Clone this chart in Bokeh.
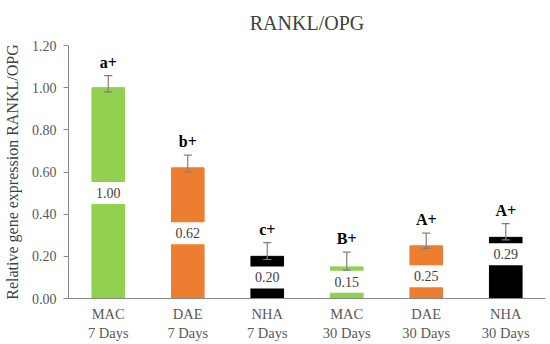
from bokeh.plotting import figure
from bokeh.models import ColumnDataSource, FixedTicker, NumeralTickFormatter, Range1d, FactorRange
from bokeh.core.properties import value
from bokeh.embed import file_html
from bokeh.resources import INLINE

categories = ["MAC\n7 Days", "DAE\n7 Days", "NHA\n7 Days", "MAC\n30 Days", "DAE\n30 Days", "NHA\n30 Days"]
values = [1.00, 0.62, 0.20, 0.15, 0.25, 0.29]
err_up = [0.057, 0.06, 0.065, 0.07, 0.06, 0.065]
err_down = [0.02, 0.02, 0.015, 0.015, 0.012, 0.012]
label_y = [0.50, 0.31, 0.10, 0.08, 0.105, 0.21]
letters = ["a+", "b+", "c+", "B+", "A+", "A+"]
colors = ["#92D050", "#ED7D31", "#000000", "#92D050", "#ED7D31", "#000000"]
yticks = [0.0, 0.2, 0.4, 0.6, 0.8, 1.0, 1.2]

SERIF = "Liberation Serif"

src = ColumnDataSource(dict(
    x=categories,
    top=values,
    color=colors,
    hi=[v + e for v, e in zip(values, err_up)],
    lo=[v - e for v, e in zip(values, err_down)],
    ly=label_y,
    lbl=[f"{v:.2f}" for v in values],
    letter=letters,
))

p = figure(width=550, height=344, x_range=FactorRange(*categories), y_range=Range1d(0, 1.2),
           output_backend="svg", toolbar_location=None,
           min_border_left=64, min_border_right=5, min_border_bottom=46, min_border_top=45)

p.title.text = "RANKL/OPG"
p.title.align = "center"
p.title.vertical_align = "top"
p.title.text_font = SERIF
p.title.text_font_size = "20px"
p.title.text_font_style = "normal"
p.title.text_color = "#404040"
p.title.standoff = 20

p.vbar(x="x", top="top", width=0.41, color="color", source=src)

# white label boxes breaking the bars
p.rect(x="x", y="ly", width=0.5, height=22, height_units="screen",
       fill_color="white", line_color=None, source=src)
p.text(x="x", y="ly", text="lbl", text_font=value(SERIF), text_font_size="14px",
       text_align="center", text_baseline="middle", text_color="#404040", source=src)

# error bars
p.segment(x0="x", y0="lo", x1="x", y1="hi", line_color="#7F7F7F", line_width=1.2, source=src)
p.scatter(x="x", y="hi", marker="dash", size=8, line_color="#7F7F7F", line_width=1.2, source=src)
p.scatter(x="x", y="lo", marker="dash", size=8, line_color="#7F7F7F", line_width=1.2, source=src)

# significance letters
p.text(x="x", y="hi", text="letter", text_font=value(SERIF), text_font_size="16px",
       text_font_style="bold", text_align="center", text_baseline="bottom", y_offset=-5,
       text_color="#000000", source=src)

p.xgrid.grid_line_color = None
p.ygrid.grid_line_color = None
p.outline_line_color = None

p.yaxis.ticker = FixedTicker(ticks=yticks)
p.yaxis.formatter = NumeralTickFormatter(format="0.00")
p.yaxis.axis_label = "Relative gene expression RANKL/OPG"
p.yaxis.axis_label_text_font = SERIF
p.yaxis.axis_label_text_font_style = "normal"
p.yaxis.axis_label_text_font_size = "16px"
p.yaxis.axis_label_text_color = "#404040"
p.yaxis.axis_label_standoff = 8
p.yaxis.minor_tick_line_color = None
p.yaxis.major_tick_out = 5
p.yaxis.major_tick_in = 0
p.yaxis.major_label_standoff = 7

for ax in (p.xaxis, p.yaxis):
    ax.axis_line_color = "#868686"
    ax.major_tick_line_color = "#868686"
    ax.major_label_text_font = SERIF
    ax.major_label_text_font_size = "14px"
    ax.major_label_text_color = "#595959"

p.xaxis.major_tick_line_color = None
p.xaxis.major_tick_out = 0
p.xaxis.major_tick_in = 0
p.xaxis.major_label_text_font_size = "14.5px"
p.xaxis.major_label_standoff = 7
p.xaxis.major_label_orientation = "horizontal"

open("out.html", "w").write(file_html(p, INLINE))
